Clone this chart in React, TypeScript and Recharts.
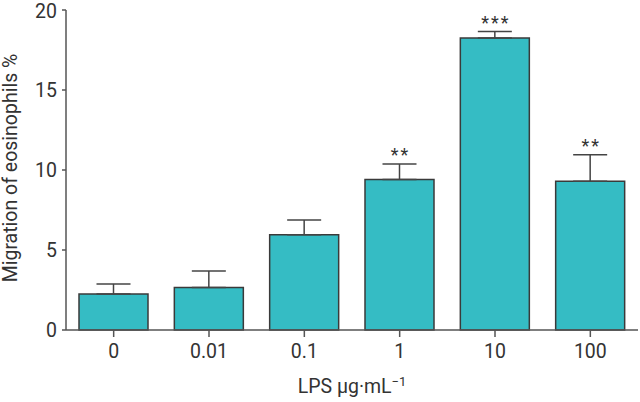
import { BarChart, Bar, XAxis, YAxis, ErrorBar, LabelList } from "recharts";

const doses = ["0", "0.01", "0.1", "1", "10", "100"];
const migration = [2.25, 2.65, 5.95, 9.4, 18.25, 9.3];
const sem = [0.63, 1.03, 0.93, 0.97, 0.4, 1.65];
const stars = ["", "", "", "**", "***", "**"];
const yTicks = [0, 5, 10, 15, 20];

const data = doses.map((d, i) => ({
  dose: d,
  value: migration[i],
  err: [0, sem[i]],
  sig: stars[i],
}));

const font = "Roboto, 'DejaVu Sans', sans-serif";
const ink = "#333";
const axis = "#555";
const fs = 19.5;

const StarLabel = (props: any) => {
  const { x, y, width, height, index, value } = props;
  if (!value) return null;
  const v = migration[index];
  // pixel per unit taken from the bar itself
  const top = y + height - ((v + sem[index]) * height) / v;
  return (
    <text
      x={x + width / 2 + 1}
      y={top - 3}
      textAnchor="middle"
      fontSize={18}
      letterSpacing={2}
      fontFamily={font}
      fill={ink}
    >
      {value}
    </text>
  );
};

export default function App() {
  return (
    <div style={{ position: "absolute", left: 0, top: 0, background: "#fff" }}>
      <BarChart
        width={640}
        height={402}
        data={data}
        margin={{ top: 10, right: 2, left: 0, bottom: 0 }}
      >
        <XAxis
          dataKey="dose"
          height={72}
          stroke={axis}
          strokeWidth={1.5}
          tickSize={7}
          tickMargin={7}
          tick={{ fill: ink, fontSize: fs, fontFamily: font }}
          label={({ viewBox }: any) => (
            <text
              x={viewBox.x + viewBox.width / 2}
              y={viewBox.y + 63}
              textAnchor="middle"
              fontSize={fs}
              fontFamily={font}
              fill={ink}
            >
              LPS µg·mL
              <tspan dy={-7} fontSize={13}>
                −1
              </tspan>
            </text>
          )}
        />
        <YAxis
          domain={[0, 20]}
          ticks={yTicks}
          width={66}
          stroke={axis}
          strokeWidth={1.5}
          tickSize={4}
          tickMargin={5}
          tick={{ fill: ink, fontSize: fs, fontFamily: font }}
          label={({ viewBox }: any) => {
            const cx = 17;
            const cy = viewBox.y + viewBox.height / 2 - 2;
            return (
              <text
                x={cx}
                y={cy}
                transform={`rotate(-90 ${cx} ${cy})`}
                textAnchor="middle"
                fontSize={fs}
                fontFamily={font}
                fill={ink}
              >
                Migration of eosinophils %
              </text>
            );
          }}
        />
        <Bar
          dataKey="value"
          fill="#35bcc4"
          stroke="#3a3a3a"
          strokeWidth={1.5}
          barSize={69}
          isAnimationActive={false}
        >
          <ErrorBar
            dataKey="err"
            direction="y"
            width={17}
            stroke="#444"
            strokeWidth={1.5}
            isAnimationActive={false}
          />
          <LabelList dataKey="sig" content={StarLabel} />
        </Bar>
      </BarChart>
    </div>
  );
}
